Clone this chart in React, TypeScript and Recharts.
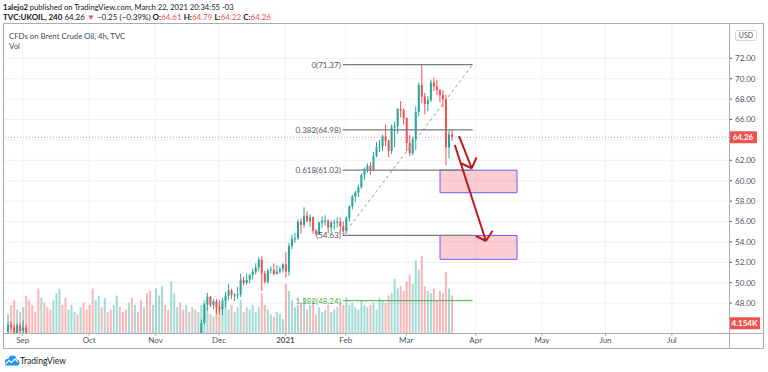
import React from 'react';
import {
  ComposedChart, Bar, XAxis, YAxis, CartesianGrid, ReferenceLine, ReferenceArea, Cell
} from 'recharts';

const FONT = 'Lato, "Open Sans", sans-serif';
const UP = '#26a69a';
const DOWN = '#ef5350';
const TEXT = '#131722';

// one candle per trading day, first candle on Aug 25 2020
const FIRST_DAY = '2020-08-25';
const HOLIDAYS = ['2020-12-25', '2021-01-01'];

const open = [
  45.2, 45.86, 45.64, 45.09, 45.81,
  45.28, 45.58, 44.43, 44.07, 42.66, 42.01, 39.78, 40.79, 40.06, 39.83, 39.61, 40.53, 42.22, 43.30, 43.15, 41.44, 41.72, 41.77, 41.94, 41.92, 42.43, 41.03,
  40.95, 40.93, 39.27, 41.29, 42.65, 41.99, 43.34, 42.85, 41.72, 42.45, 43.32, 43.16, 42.93, 42.62, 43.16, 41.73, 42.46, 41.77, 40.46, 41.20, 39.12, 37.65,
  37.94, 39.71, 40.71, 41.23, 40.93, 39.45, 42.40, 43.61, 43.80, 43.53, 42.78, 43.82, 43.75, 44.34, 44.20, 44.96, 46.06, 47.86, 48.61, 47.80, 48.18,
  47.59, 47.42, 48.25, 48.71, 49.25, 48.79, 48.84, 48.86, 50.25, 49.97, 50.29, 50.76, 51.08, 51.50, 52.26, 50.91, 50.08, 51.20, 51.29, 50.86, 51.09, 51.34,
  51.80, 51.09, 53.60, 54.30, 54.38, 55.99, 55.66, 56.58, 56.06, 56.42, 55.10, 54.75, 55.90, 56.08, 56.10, 55.41, 55.88, 55.91, 56.00, 55.53,
  55.04, 56.35, 57.46, 58.46, 58.84, 59.34, 60.56, 61.09, 61.47, 61.14, 62.43, 63.30, 63.35, 64.34, 63.93, 62.91, 65.24, 65.37, 67.04, 66.88,
  66.13, 63.69, 62.70, 64.07, 66.74, 69.36, 68.24, 67.52, 67.90, 69.63, 69.22, 68.88, 68.39, 68.00, 63.28, 64.53,
];
const high = [
  46.1, 46.2, 45.9, 46.0, 46.0,
  46.3, 45.9, 45.0, 44.2, 42.9, 42.2, 41.0, 41.4, 40.5, 40.2, 40.8, 42.4, 43.6, 43.6, 43.2, 42.0, 42.4, 42.1, 42.3, 42.6, 42.5, 41.7,
  41.6, 41.0, 41.4, 42.9, 42.8, 43.5, 43.6, 43.0, 42.6, 43.5, 43.5, 43.3, 43.2, 43.3, 43.4, 42.6, 42.5, 41.8, 41.4, 41.3, 39.3, 38.2,
  39.9, 40.9, 41.6, 41.5, 41.0, 43.0, 43.8, 44.3, 44.0, 43.6, 44.0, 44.1, 44.6, 44.5, 45.1, 46.4, 48.0, 49.0, 48.7, 48.4, 48.4,
  48.3, 48.5, 49.1, 49.9, 49.4, 49.0, 49.6, 50.9, 50.6, 50.9, 50.9, 51.4, 51.9, 52.5, 52.6, 51.2, 51.4, 51.6, 51.9, 51.7, 51.6, 51.9,
  53.0, 53.9, 54.7, 54.9, 56.2, 56.3, 57.4, 57.0, 56.7, 56.5, 55.3, 56.0, 56.5, 56.6, 56.2, 56.1, 56.2, 56.4, 56.4, 56.0,
  56.5, 57.6, 58.6, 59.0, 59.6, 60.7, 61.3, 61.7, 61.8, 62.8, 63.8, 64.0, 64.5, 65.5, 64.0, 65.5, 65.8, 67.1, 67.8, 67.1,
  66.2, 64.5, 64.3, 67.3, 69.6, 71.37, 68.6, 68.3, 69.9, 70.1, 69.9, 69.0, 68.9, 68.4, 64.9, 65.0,
];
const low = [
  45.0, 45.3, 44.7, 44.9, 45.1,
  45.0, 44.1, 43.6, 42.1, 41.5, 39.4, 39.3, 39.9, 39.6, 39.3, 39.2, 40.4, 41.4, 42.8, 41.2, 40.9, 41.4, 41.3, 41.6, 41.6, 40.9, 40.6,
  40.5, 38.9, 39.1, 41.2, 41.5, 41.8, 42.5, 41.5, 41.4, 42.2, 42.5, 42.6, 42.3, 42.4, 41.5, 41.3, 41.5, 40.3, 40.2, 38.9, 37.2, 37.3,
  36.6, 39.3, 39.8, 40.4, 39.2, 39.3, 42.0, 43.3, 43.0, 42.4, 42.5, 43.3, 43.6, 43.6, 43.9, 44.8, 45.9, 47.3, 47.6, 47.4, 46.9,
  46.9, 46.8, 47.6, 48.3, 48.4, 48.2, 48.4, 48.6, 49.7, 49.8, 49.9, 50.3, 50.8, 51.1, 49.2, 49.9, 49.9, 50.9, 50.7, 50.8, 50.9, 51.0,
  50.5, 50.7, 53.3, 53.9, 54.2, 54.8, 55.4, 55.9, 55.5, 54.8, 54.6, 54.7, 55.4, 55.6, 54.8, 55.0, 55.2, 55.4, 54.9, 54.63,
  54.8, 56.0, 57.2, 57.9, 58.4, 59.2, 60.1, 60.8, 60.6, 60.9, 62.3, 62.8, 62.9, 63.4, 62.3, 62.6, 63.3, 64.6, 66.2, 65.5,
  62.9, 62.4, 62.5, 63.0, 66.3, 67.6, 66.5, 66.8, 67.7, 68.8, 68.4, 67.7, 67.2, 61.5, 62.2, 63.9,
];
const close = [
  45.86, 45.64, 45.09, 45.81, 45.28,
  45.58, 44.43, 44.07, 42.66, 42.01, 39.78, 40.79, 40.06, 39.83, 39.61, 40.53, 42.22, 43.30, 43.15, 41.44, 41.72, 41.77, 41.94, 41.92, 42.43, 41.03, 40.95,
  40.93, 39.27, 41.29, 42.65, 41.99, 43.34, 42.85, 41.72, 42.45, 43.32, 43.16, 42.93, 42.62, 43.16, 41.73, 42.46, 41.77, 40.46, 41.20, 39.12, 37.65, 37.94,
  39.71, 40.71, 41.23, 40.93, 39.45, 42.40, 43.61, 43.80, 43.53, 42.78, 43.82, 43.75, 44.34, 44.20, 44.96, 46.06, 47.86, 48.61, 47.80, 48.18, 47.59,
  47.42, 48.25, 48.71, 49.25, 48.79, 48.84, 48.86, 50.25, 49.97, 50.29, 50.76, 51.08, 51.50, 52.26, 50.91, 50.08, 51.20, 51.29, 50.86, 51.09, 51.34, 51.80,
  51.09, 53.60, 54.30, 54.38, 55.99, 55.66, 56.58, 56.06, 56.42, 55.10, 54.75, 55.90, 56.08, 56.10, 55.41, 55.88, 55.91, 56.00, 55.53, 55.04,
  56.35, 57.46, 58.46, 58.84, 59.34, 60.56, 61.09, 61.47, 61.14, 62.43, 63.30, 63.35, 64.34, 63.93, 62.91, 65.24, 65.37, 67.04, 66.88, 66.13,
  63.69, 62.70, 64.07, 66.74, 69.36, 68.24, 67.52, 67.90, 69.63, 69.22, 68.88, 68.39, 68.00, 63.28, 64.53, 64.26,
];
// volume in thousands
const volume = [
  8, 12, 14, 10, 9,
  11, 16, 14, 12, 9, 19, 15, 13, 11, 10, 14, 17, 19, 12, 15, 10, 12, 9, 8, 11, 13, 10,
  12, 19, 14, 16, 11, 15, 9, 10, 12, 16, 11, 9, 10, 13, 15, 12, 9, 14, 11, 17, 18, 12,
  19, 16, 20, 12, 10, 22, 17, 11, 13, 10, 12, 9, 11, 10, 9, 12, 14, 11, 8, 7, 12,
  13, 11, 15, 10, 12, 9, 11, 14, 9, 11, 10, 12, 9, 11, 17, 12, 10, 8, 7, 9, 8, 6,
  21, 18, 14, 11, 12, 13, 15, 10, 12, 14, 8, 11, 9, 10, 12, 9, 10, 11, 13, 12,
  15, 12, 13, 11, 10, 14, 12, 11, 12, 13, 10, 15, 14, 13, 16, 17, 23, 19, 20, 18,
  22, 25, 21, 31, 27, 33, 20, 18, 17, 19, 14, 18, 17, 26, 19, 16,
];

const monthStarts = ['2020-09-01', '2020-10-01', '2020-11-02', '2020-12-01', '2021-01-04', '2021-02-01',
  '2021-03-01', '2021-04-01', '2021-05-03', '2021-06-01', '2021-07-01'];
const monthLabels = ['Sep', 'Oct', 'Nov', 'Dec', '2021', 'Feb', 'Mar', 'Apr', 'May', 'Jun', 'Jul'];
const gridPrices = [48, 50, 52, 54, 56, 58, 60, 62, 64, 66, 68, 70, 72];
// 64.00 is hidden behind the last-price badge
const priceTicks = [48, 50, 52, 54, 56, 58, 60, 62, 66, 68, 70, 72];

const LAST_PRICE = 64.26;
const LAST_VOLUME = 4.154;

// fib retracement drawn from the Jan 29 low to the Mar high
const fibLabels = ['0(71.37)', '0.382(64.98)', '0.618(61.03)', '(54.63)', '1.382(48.24)'];
const fibPrices = [71.37, 64.98, 61.03, 54.63, 48.24];
const fibColors = ['#787b86', '#787b86', '#787b86', '#787b86', '#4caf50'];
const FIB_X1 = 106;
const FIB_X2 = 149;

// target boxes [x1, x2, priceLow, priceHigh] in bar index / price units
const boxes = [
  [138.2, 163.7, 58.82, 61.03],
  [138.2, 163.7, 52.29, 54.63],
];
// arrows: [fromX, fromY, toX, toY, wing1X, wing1Y, wing2X, wing2Y]
const arrows = [
  [144.5, 64.38, 148.7, 61.22, 150.3, 62.29, 145.1, 61.71],
  [143.1, 63.5, 153.4, 54.09, 155.6, 55.1, 150.1, 54.58],
];

// trading day calendar (weekdays minus holidays), index 0 = Sep 1 2020
const tradingDays: string[] = [];
for (let t = Date.UTC(2020, 7, 1); t <= Date.UTC(2021, 7, 1); t += 86400000) {
  const d = new Date(t);
  const s = d.toISOString().slice(0, 10);
  const wd = d.getUTCDay();
  if (wd !== 0 && wd !== 6 && !HOLIDAYS.includes(s)) tradingDays.push(s);
}
const idxOf = (s: string) => tradingDays.indexOf(s) - tradingDays.indexOf('2020-09-01');

const first = idxOf(FIRST_DAY);
const rows = open.map((o, k) => ({
  i: first + k,
  o, h: high[k], l: low[k], c: close[k], v: volume[k],
  range: [low[k], high[k]],
}));
const monthTicks = monthStarts.map(idxOf);

const X_DOMAIN: [number, number] = [-6.2, 233.9];
const Y_DOMAIN: [number, number] = [45.07, 75.36];
const MARGIN = { top: 24, right: 5, bottom: 24, left: 4 };
const ARROW = '#b71c1c';

const Candle = (props: any) => {
  const { x, y, width, height, payload } = props;
  const { o, h, l, c } = payload;
  if (!(h > l)) return null;
  const k = height / (h - l);
  const yo = y + (h - o) * k;
  const yc = y + (h - c) * k;
  const color = c >= o ? UP : DOWN;
  const cx = x + width / 2;
  return (
    <g>
      <line x1={cx} x2={cx} y1={y} y2={y + height} stroke={color} strokeWidth={1} />
      <rect x={x} y={Math.min(yo, yc)} width={width} height={Math.max(1, Math.abs(yo - yc))} fill={color} />
    </g>
  );
};

const MonthTick = (props: any) => {
  const { x, y, payload } = props;
  const n = monthTicks.indexOf(payload.value);
  const label = monthLabels[n];
  return (
    <text x={x} y={y} dy="0.71em" textAnchor="middle" fontSize={8} fontFamily={FONT}
      fill="#50535e" fontWeight={label === '2021' ? 700 : 400}>{label}</text>
  );
};

const priceBadge = (text: string, w: number) => (p: any) => {
  const vb = p.viewBox;
  const x = vb.x + vb.width;
  const y = vb.y;
  return (
    <g>
      <rect x={x} y={y - 6} width={w} height={12} fill={DOWN} rx={1} />
      <text x={x + w / 2} y={y} dy="0.35em" textAnchor="middle" fontSize={8} fontWeight={700}
        fontFamily={FONT} fill="#fff">{text}</text>
    </g>
  );
};

// price chart: grid, axes, volume and candles
function PriceChart() {
  return (
    <ComposedChart width={768} height={372} data={rows} margin={MARGIN}>
      <CartesianGrid stroke="#eef1f7" horizontalValues={gridPrices} verticalValues={monthTicks} />
      <XAxis dataKey="i" type="number" domain={X_DOMAIN} allowDataOverflow ticks={monthTicks}
        height={15} axisLine={false} tickSize={3} tickMargin={1} tickLine={{ stroke: '#b2b5be' }}
        tick={<MonthTick />} interval={0} />
      <XAxis xAxisId="vol" dataKey="i" type="number" domain={X_DOMAIN} allowDataOverflow hide />
      <YAxis orientation="right" width={34} domain={Y_DOMAIN} allowDataOverflow ticks={priceTicks}
        interval={0} axisLine={false} tickSize={3} tickMargin={3} tickLine={{ stroke: '#50535e' }}
        tickFormatter={(v: number) => v.toFixed(2)}
        tick={{ fontSize: 8, fill: '#50535e', fontFamily: FONT, textAnchor: 'start' }} />
      <YAxis yAxisId="vol" domain={[0, 132]} allowDataOverflow hide />

      <Bar xAxisId="vol" yAxisId="vol" dataKey="v" barSize={2} isAnimationActive={false}>
        {rows.map((r, k) => (
          <Cell key={k} fill={r.c >= r.o ? 'rgba(38,166,154,0.42)' : 'rgba(239,83,80,0.42)'} />
        ))}
      </Bar>
      <Bar dataKey="range" barSize={2} shape={Candle} isAnimationActive={false} />
      <ReferenceLine y={LAST_PRICE} stroke={DOWN} strokeOpacity={0.6} strokeDasharray="1 2" />
    </ComposedChart>
  );
}

// drawings layer on top, same axes so the same scales apply
function Drawings() {
  return (
    <ComposedChart width={768} height={372} data={rows} margin={MARGIN}>
      <XAxis dataKey="i" type="number" domain={X_DOMAIN} allowDataOverflow ticks={monthTicks}
        height={15} axisLine={false} tickLine={false} tick={false} />
      <YAxis orientation="right" width={34} domain={Y_DOMAIN} allowDataOverflow ticks={priceTicks}
        axisLine={false} tickLine={false} tick={false} />
      <YAxis yAxisId="vol" domain={[0, 132]} allowDataOverflow hide />

      <ReferenceLine y={LAST_PRICE} stroke="none" label={priceBadge('64.26', 28)} />
      <ReferenceLine yAxisId="vol" y={LAST_VOLUME} stroke="none" label={priceBadge('4.154K', 31)} />

      <ReferenceLine segment={[{ x: FIB_X1, y: 54.63 }, { x: FIB_X2, y: 71.37 }]}
        stroke="#9598a1" strokeDasharray="3 3" ifOverflow="visible" />
      {fibPrices.map((p, n) => (
        <ReferenceLine key={'f' + n} segment={[{ x: FIB_X1, y: p }, { x: FIB_X2, y: p }]}
          stroke={fibColors[n]} strokeWidth={n === 4 ? 1 : 1.3} ifOverflow="visible"
          label={{ value: fibLabels[n], position: 'left', offset: 2, fontSize: 8, fill: n === 4 ? '#4caf50' : '#50535e', fontFamily: FONT }} />
      ))}
      {boxes.map((b, n) => (
        <ReferenceArea key={'b' + n} x1={b[0]} x2={b[1]} y1={b[2]} y2={b[3]}
          fill="#f23645" fillOpacity={0.25} stroke="#6c5cf5" strokeOpacity={1} strokeWidth={1} ifOverflow="visible" />
      ))}
      {arrows.flatMap((a, n) => [
        <ReferenceLine key={'a' + n} segment={[{ x: a[0], y: a[1] }, { x: a[2], y: a[3] }]}
          stroke={ARROW} strokeWidth={2} ifOverflow="visible" />,
        <ReferenceLine key={'w1' + n} segment={[{ x: a[4], y: a[5] }, { x: a[2], y: a[3] }]}
          stroke={ARROW} strokeWidth={2} ifOverflow="visible" />,
        <ReferenceLine key={'w2' + n} segment={[{ x: a[6], y: a[7] }, { x: a[2], y: a[3] }]}
          stroke={ARROW} strokeWidth={2} ifOverflow="visible" />,
      ])}
    </ComposedChart>
  );
}

export default function App() {
  return (
    <div style={{ position: 'absolute', left: 0, top: 0, width: 768, height: 372, background: '#fff', fontFamily: FONT, color: TEXT, overflow: 'hidden' }}>
      <div style={{ position: 'absolute', left: 3, top: 1.5, fontSize: 7.6, lineHeight: '10px', whiteSpace: 'nowrap' }}>
        <b>1alejo2</b> published on TradingView.com, March 22, 2021 20:34:55 -03
      </div>
      <div style={{ position: 'absolute', left: 3, top: 12, fontSize: 8, lineHeight: '10px', whiteSpace: 'nowrap' }}>
        <b>TVC:UKOIL, 240</b> 64.26 <span style={{ color: DOWN }}>▼</span> −0.25 (−0.39%){' '}
        <b>O:</b><span style={{ color: DOWN }}>64.61</span>{' '}
        <b>H:</b><span style={{ color: DOWN }}>64.79</span>{' '}
        <b>L:</b><span style={{ color: DOWN }}>64.22</span>{' '}
        <b>C:</b><span style={{ color: DOWN }}>64.26</span>
      </div>

      <div style={{ position: 'absolute', left: 0, top: 0 }}>
        <PriceChart />
      </div>
      <div style={{ position: 'absolute', left: 0, top: 0 }}>
        <Drawings />
      </div>

      <svg width={768} height={372} style={{ position: 'absolute', left: 0, top: 0, pointerEvents: 'none' }}>
        <rect x={3.5} y={23.5} width={760} height={325} fill="none" stroke="#a9acb5" />
        <line x1={729.5} x2={729.5} y1={23.5} y2={348.5} stroke="#a9acb5" />
        <line x1={3.5} x2={763.5} y1={333.5} y2={333.5} stroke="#a9acb5" />
        <rect x={735.5} y={30.5} width={21} height={10} rx={2} fill="#fff" stroke="#d1d4dc" />
        <text x={746} y={35.5} dy="0.35em" textAnchor="middle" fontSize={7} fontFamily={FONT} fill="#50535e">USD</text>
        <text x={9} y={36} dy="0.35em" fontSize={7.8} fontFamily={FONT} fill="#434651">CFDs on Brent Crude Oil, 4h, TVC</text>
        <text x={9} y={46.5} dy="0.35em" fontSize={7.8} fontFamily={FONT} fill="#434651">Vol</text>
        <g fill="#2196f3">
          <circle cx={8} cy={362} r={3.2} />
          <circle cx={12.5} cy={359.5} r={4} />
          <circle cx={16.5} cy={362.5} r={3} />
          <rect x={5} y={361} width={13} height={4.5} rx={1.5} />
        </g>
        <polyline points="5.5,364 9,360.5 11.5,362.5 15,359 18,362" fill="none" stroke="#fff" strokeWidth={1.1} />
        <text x={20} y={361} dy="0.35em" fontSize={8.5} fontFamily={FONT} fill={TEXT}>TradingView</text>
      </svg>
    </div>
  );
}
